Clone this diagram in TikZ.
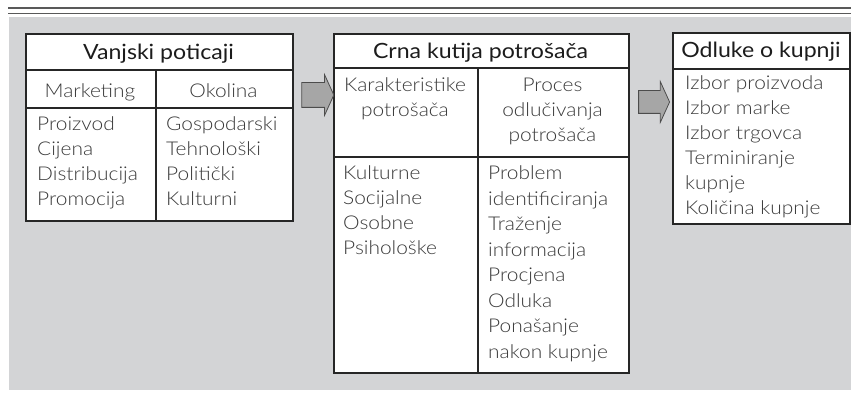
\documentclass[tikz,border=0pt]{standalone}
\usepackage{fontspec}
\setmainfont{Lato}[FakeStretch=1.1]
\newfontfamily\lekki{Lato Light}[FakeStretch=1.1]
\usetikzlibrary{shapes.arrows,calc}
\definecolor{pozadina}{HTML}{D3D4D6}
\definecolor{rub}{HTML}{262626}
\definecolor{tekst}{HTML}{3A3A3A}
\definecolor{naslov}{HTML}{1C1C1C}
\definecolor{strelica}{HTML}{A6A6A6}
\tikzset{
    celija/.style={draw=rub, line width=2.2pt, fill=white, anchor=north west, inner sep=0pt},
    stavke/.style={inner sep=0pt, anchor=north west, align=left, text=tekst,
        font=\lekki\fontsize{19}{25}\selectfont, execute at begin node=\strut},
    podnaslov/.style={stavke, anchor=north, align=center},
    naslovtekst/.style={inner sep=0pt, anchor=north, align=center, text=naslov,
        font=\fontsize{21}{25}\selectfont, execute at begin node=\strut},
    blokstrelica/.style={single arrow, draw=black!70, line width=0.8pt, fill=strelica,
        inner xsep=0pt, single arrow tip angle=131}
}
\begin{document}
\begin{tikzpicture}[x=1pt,y=-1pt]
            \useasboundingbox (0,0) rectangle (851,395);
            \fill[pozadina] (9,17) rectangle (851,390);
            \draw[black!65, line width=1.8pt] (8,8) -- (851,8);
            \draw[black!65, line width=1.1pt] (8,13.5) -- (851,13.5);

            % Vanjski poticaji
            \node[celija, minimum width=267, minimum height=36] (vp) at (25,33) {};
            \node[celija, minimum width=130, minimum height=38] (mkt) at (25,69) {};
            \node[celija, minimum width=137, minimum height=38] (oko) at (155,69) {};
            \node[celija, minimum width=130, minimum height=113] (mktlista) at (25,107) {};
            \node[celija, minimum width=137, minimum height=113] (okolista) at (155,107) {};
            \node[naslovtekst] (vpnaslov) at (158.5,41.5) {Vanjski poticaji};
            \node[podnaslov] (mktnaslov) at (90,79.5) {Marketing};
            \node[podnaslov] (okonaslov) at (223.5,79.5) {Okolina};
            \node[stavke] (mktstavke) at (37,116) {Proizvod\\Cijena\\Distribucija\\Promocija};
            \node[stavke] (okostavke) at (166,116) {Gospodarski\\Tehnološki\\Politički\\Kulturni};

            % Crna kutija potrošača
            \node[celija, minimum width=295, minimum height=34] (ck) at (333,33) {};
            \node[celija, minimum width=144, minimum height=89] (kar) at (333,67) {};
            \node[celija, minimum width=151, minimum height=89] (proc) at (477,67) {};
            \node[celija, minimum width=144, minimum height=216] (karlista) at (333,156) {};
            \node[celija, minimum width=151, minimum height=216] (proclista) at (477,156) {};
            \node[naslovtekst] (cknaslov) at (480.5,40.5) {Crna kutija potrošača};
            \node[podnaslov] (karnaslov) at (405,77.5) {Karakteristike\\potrošača};
            \node[podnaslov] (procnaslov) at (552.5,77.5) {Proces\\odlučivanja\\potrošača};
            \node[stavke] (karstavke) at (343,165.5) {Kulturne\\Socijalne\\Osobne\\Psihološke};
            \node[stavke, font=\lekki\fontsize{19}{25.5}\selectfont] (procstavke) at (488,165.5)
                {Problem\\identificiranja\\Traženje\\informacija\\Procjena\\Odluka\\Ponašanje\\nakon kupnje};

            % Odluke o kupnji
            \node[celija, minimum width=177, minimum height=36] (ok) at (672,32) {};
            \node[celija, minimum width=177, minimum height=155] (oklista) at (672,68) {};
            \node[naslovtekst] (oknaslov) at (761,39.5) {Odluke o kupnji};
            \node[stavke] (okstavke) at (685,75.5)
                {Izbor proizvoda\\Izbor marke\\Izbor trgovca\\Terminiranje\\kupnje\\Količina kupnje};

            % strelice
            \node[blokstrelica, inner ysep=12pt, minimum height=32, single arrow head extend=8] (s1) at (315,95) {};
            \node[blokstrelica, inner ysep=11pt, minimum height=31, single arrow head extend=9] (s2) at (651.5,102) {};
        \end{tikzpicture}
\end{document}
